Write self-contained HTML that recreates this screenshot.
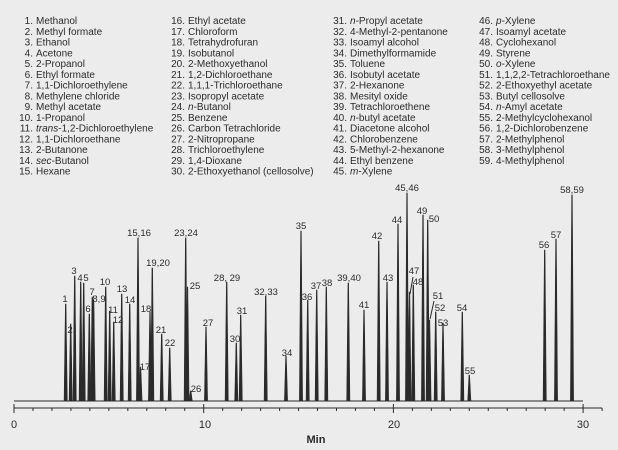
<!DOCTYPE html>
<html><head><meta charset="utf-8"><style>
html,body{margin:0;padding:0;background:#ececec;}
svg{display:block;font-family:"Liberation Sans",sans-serif;}
</style></head><body>
<svg id="s" width="618" height="450" viewBox="0 0 618 450" xmlns="http://www.w3.org/2000/svg">
<rect width="618" height="450" fill="#ececec"/>
<g id="leg" font-size="10" fill="#2a2a2a"></g>
<g id="pk" stroke="#2a2a2a" stroke-width="1" fill="none"></g>
<g id="lb" font-size="9.5" fill="#2a2a2a" text-anchor="middle"></g>
<g id="ax" stroke="#2a2a2a" stroke-width="1"></g>
<g font-size="11" fill="#2a2a2a" text-anchor="middle">
<text x="14" y="428">0</text><text x="205" y="428">10</text><text x="394" y="428">20</text><text x="583" y="428">30</text>
<text x="316" y="443" font-weight="bold">Min</text>
</g>
</svg>
<script>
var NS="http://www.w3.org/2000/svg";
function el(t,a,p,txt){var e=document.createElementNS(NS,t);for(var k in a)e.setAttribute(k,a[k]);if(txt!=null)e.innerHTML=txt;p.appendChild(e);return e;}
var names=["Methanol","Methyl formate","Ethanol","Acetone","2-Propanol","Ethyl formate","1,1-Dichloroethylene","Methylene chloride","Methyl acetate","1-Propanol","<tspan font-style='italic'>trans</tspan>-1,2-Dichloroethylene","1,1-Dichloroethane","2-Butanone","<tspan font-style='italic'>sec</tspan>-Butanol","Hexane",
"Ethyl acetate","Chloroform","Tetrahydrofuran","Isobutanol","2-Methoxyethanol","1,2-Dichloroethane","1,1,1-Trichloroethane","Isopropyl acetate","<tspan font-style='italic'>n</tspan>-Butanol","Benzene","Carbon Tetrachloride","2-Nitropropane","Trichloroethylene","1,4-Dioxane","2-Ethoxyethanol (cellosolve)",
"<tspan font-style='italic'>n</tspan>-Propyl acetate","4-Methyl-2-pentanone","Isoamyl alcohol","Dimethylformamide","Toluene","Isobutyl acetate","2-Hexanone","Mesityl oxide","Tetrachloroethene","<tspan font-style='italic'>n</tspan>-butyl acetate","Diacetone alcohol","Chlorobenzene","5-Methyl-2-hexanone","Ethyl benzene","<tspan font-style='italic'>m</tspan>-Xylene",
"<tspan font-style='italic'>p</tspan>-Xylene","Isoamyl acetate","Cyclohexanol","Styrene","<tspan font-style='italic'>o</tspan>-Xylene","1,1,2,2-Tetrachloroethane","2-Ethoxyethyl acetate","Butyl cellosolve","<tspan font-style='italic'>n</tspan>-Amyl acetate","2-Methylcyclohexanol","1,2-Dichlorobenzene","2-Methylphenol","3-Methylphenol","4-Methylphenol"];
var colx=[33,185,347,493];
var leg=document.getElementById("leg");
names.forEach(function(n,i){var c=Math.floor(i/15),r=i%15;var y=24+r*10.75;
el("text",{x:colx[c],y:y,"text-anchor":"end"},leg,(i+1)+".");
el("text",{x:colx[c]+3,y:y},leg,n);});
// peaks: x, top y
var P=[[65.7,304],[70.7,324],[74.7,276],[80.7,282],[83.7,283],[89.3,314],[92.3,297],[93.6,300],[105.7,287],[109.7,311],[113.7,322],[121.7,294],[129.7,304],[138,238],[140.5,367],[150,312],[152.3,268],[161.7,334],[169.7,348],[185.7,238],[187.5,287],[190.7,391],[206,327],[226.7,282],[236.3,343],[240.7,315],[265.7,296],[286,356],[301,231],[307.7,300],[316.7,290],[326.3,287],[348.3,283],[364,310],[378.7,241],[387,282],[398,224],[407,193],[409.5,292],[413.3,285],[423,215],[427.7,220],[429.5,320],[435.7,312],[443,323],[462.3,312],[469.3,375],[544.7,250],[556,239],[572,195]];
var base=401,hw=1.6;
var d="M14 "+base;
P.sort(function(a,b){return a[0]-b[0];});
var pk=document.getElementById("pk");
el("line",{x1:14,y1:base,x2:583,y2:base},pk);
P.forEach(function(p){el("path",{d:"M"+(p[0]-hw)+" "+base+"L"+(p[0]-0.3)+" "+p[1]+"L"+(p[0]+0.3)+" "+p[1]+"L"+(p[0]+hw)+" "+base+"Z",fill:"#2a2a2a","stroke-width":"0.6"},pk);});
var L=[["1",65,302],["2",70,333],["3",74,274],["4",80,281],["5",86,281],["6",88,312],["7",92,295],["8,9",99,302],["10",105,285],["11",113,313],["12",118,323],["13",122,292],["14",130,303],["15,16",139,236],["17",145,370],["18",146,312],["19,20",158,266],["21",161,333],["22",170,346],["23,24",186,236],["25",195,289],["26",196,392],["27",208,326],["28, 29",227,281],["30",235,342],["31",242,314],["32,33",266,295],["34",287,356],["35",301,229],["36",307,300],["37",316,289],["38",327,286],["39,40",349,281],["41",364,308],["42",377,239],["43",388,281],["44",397,223],["45,46",407,191],["47",414,274],["48",418,285],["49",422,214],["50",434,222],["51",438,299],["52",440,311],["53",443,326],["54",462,311],["55",470,374],["56",544,248],["57",556,238],["58,59",572,193]];
var lb=document.getElementById("lb");
L.forEach(function(l){el("text",{x:l[1],y:l[2]},lb,l[0]);});
el("line",{x1:410,y1:294,x2:413,y2:277},pk);
el("line",{x1:430,y1:319,x2:434,y2:301},pk);
var ax=document.getElementById("ax");
el("line",{x1:14,y1:408,x2:602,y2:408},ax);
for(var m=0;m<=31;m++){var x=14+m*18.97;var big=(m%10==0);el("line",{x1:x,y1:big?404:408,x2:x,y2:big?413:411},ax);}
</script>
</body></html>
